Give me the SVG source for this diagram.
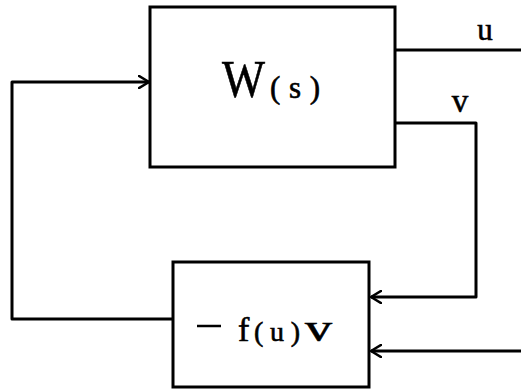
<svg xmlns="http://www.w3.org/2000/svg" width="521" height="391" viewBox="0 0 521 391">
<style>
.box{fill:#fff;stroke:#000;stroke-width:3}
.ln{fill:none;stroke:#000;stroke-width:3;stroke-linejoin:round}
.t{font-family:"Liberation Serif","DejaVu Serif",serif;fill:#000;stroke:#000;stroke-width:0.6}
</style>
<defs>
<marker id="ah" viewBox="0 0 12 14" refX="11" refY="7" markerWidth="12" markerHeight="14" markerUnits="userSpaceOnUse" orient="auto">
<path d="M1,1 L11,7 L1,13" fill="none" stroke="#000" stroke-width="2.6" stroke-linecap="round" stroke-linejoin="round"/>
</marker>
</defs>
<rect width="521" height="391" fill="#fff"/>
<g id="connectors">
<path class="ln" d="M395,50 H521"/>
<path class="ln" d="M395,123 H476 V297 H371" marker-end="url(#ah)"/>
<path class="ln" d="M521,351 H371" marker-end="url(#ah)"/>
<path class="ln" d="M172,319 H12 V82 H149" marker-end="url(#ah)"/>
</g>
<g id="W">
<rect class="box" x="150" y="7" width="245" height="160"/>
<text class="t" x="222" y="97" font-size="52" textLength="43" lengthAdjust="spacingAndGlyphs">W</text>
<text class="t" x="270" y="98" font-size="31" textLength="50" lengthAdjust="spacing">(s)</text>
</g>
<g id="F">
<rect class="box" x="173" y="262" width="196" height="125"/>
<path d="M197,326 H221" stroke="#000" stroke-width="2.5"/>
<text class="t" x="238" y="341" font-size="34">f</text>
<text class="t" x="254" y="341" font-size="28" textLength="46" lengthAdjust="spacing">(u)</text>
<text class="t" x="305" y="341" font-size="38" textLength="27" lengthAdjust="spacingAndGlyphs">v</text>
</g>
<g id="labels">
<text class="t" x="485" y="40" font-size="31" text-anchor="middle">u</text>
<text class="t" x="460" y="112" font-size="33" text-anchor="middle">v</text>
</g>
</svg>
